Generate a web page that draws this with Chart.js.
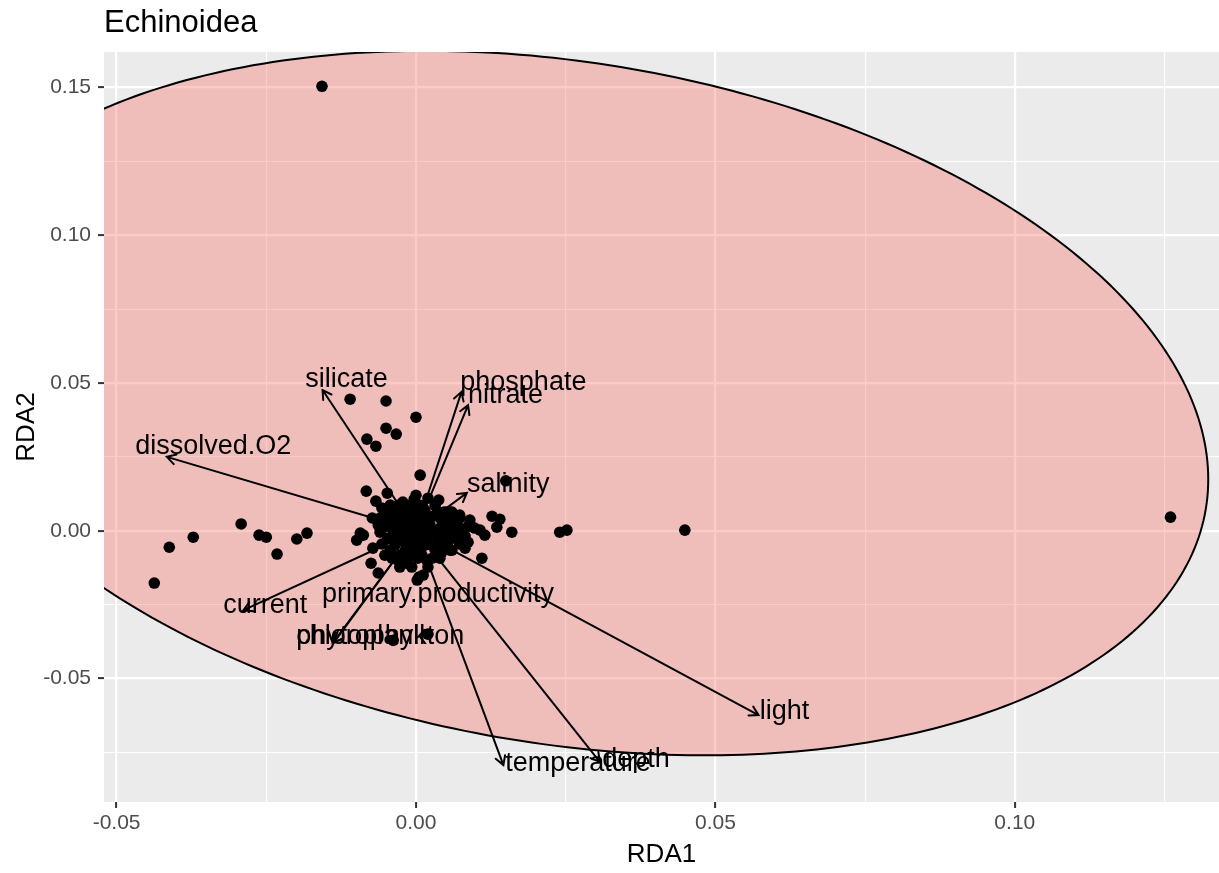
<!DOCTYPE html>
<html>
<head>
<meta charset="utf-8">
<script src="https://cdn.jsdelivr.net/npm/chart.js@4.4.1/dist/chart.umd.min.js"></script>
<style>
html, body { margin: 0; padding: 0; background: #fff; }
#wrap { width: 1219px; height: 873px; }
</style>
</head>
<body>
<div id="wrap"><canvas id="rdaChart" width="1219" height="873"></canvas></div>
<script>
// Site scores (RDA1, RDA2)
const siteX = [
    -0.0157, 0.1260, 0.0449, 0.0240, 0.0252,
    -0.0437, -0.0412, -0.0372, -0.0292, -0.0262, -0.0250, -0.0232, -0.0199, -0.0182,
    -0.0110, -0.0050, 0.0000, -0.0050, -0.0033, -0.0082, -0.0067, 0.0007, -0.0083, -0.0067,
    -0.0048, 0.0000, -0.0003, 0.0038, 0.0052, 0.0150, 0.0127, 0.0140, 0.0135, 0.0160,
    0.0110, 0.0087, 0.0107, 0.0115, 0.0090, 0.0068, 0.0057,
    -0.0093, -0.0099, -0.0088, -0.0072, -0.0075, -0.0063, -0.0073, -0.0043, -0.0015,
    0.0002, 0.0012, 0.0018, 0.0005, -0.0038, 0.0020,
    -0.0035, -0.0018, -0.0002, 0.0015, 0.0032, 0.0048, 0.0065, 0.0077,
    -0.0052, -0.0040, -0.0027, -0.0010, 0.0007, 0.0023, 0.0040, 0.0057,
    -0.0060, -0.0047, -0.0030, -0.0013, 0.0003, 0.0020, 0.0037, 0.0053, 0.0070,
    -0.0035, -0.0018, -0.0002, 0.0015, 0.0032,
    -0.0027, -0.0007, 0.0010, 0.0027, 0.0043,
    -0.0043, -0.0022, 0.0020, -0.0057, 0.0073, 0.0098, -0.0010, 0.0007, -0.0030,
    -0.0052, 0.0060, 0.0082, -0.0063, -0.0005, 0.0028, -0.0023, 0.0047,
    -0.0060, -0.0043, -0.0027, -0.0010, 0.0007, 0.0023, 0.0040, 0.0057, 0.0073,
    -0.0043, -0.0018, 0.0007, 0.0032, 0.0057, -0.0030, -0.0010, 0.0007, 0.0032,
    -0.0052, -0.0030, -0.0007, 0.0015, 0.0037, 0.0060,
    -0.0050, -0.0033, -0.0017, 0.0013, 0.0050, 0.0070, 0.0087,
    -0.0038, -0.0022, 0.0012, 0.0045, 0.0065, 0.0082,
    -0.0057, -0.0010, 0.0023, 0.0048, 0.0073,
    -0.0040, -0.0013, 0.0003, 0.0040,
    -0.0027, -0.0007, 0.0020
];
const siteY = [
    0.1504, 0.0046, 0.0002, -0.0005, 0.0002,
    -0.0177, -0.0056, -0.0022, 0.0023, -0.0015, -0.0022, -0.0079, -0.0028, -0.0008,
    0.0445, 0.0439, 0.0384, 0.0347, 0.0327, 0.0310, 0.0286, 0.0188, 0.0134, 0.0100,
    0.0127, 0.0120, 0.0107, 0.0104, 0.0063, 0.0169, 0.0049, 0.0039, 0.0012, -0.0005,
    -0.0093, -0.0039, 0.0002, -0.0015, 0.0036, 0.0036, 0.0063,
    -0.0008, -0.0032, -0.0015, -0.0059, -0.0110, -0.0143, 0.0043, 0.0087, -0.0110,
    -0.0167, -0.0150, -0.0100, -0.0157, -0.0371, -0.0350,
    0.0053, 0.0063, 0.0070, 0.0070, 0.0053, 0.0036, 0.0019, 0.0002,
    0.0029, 0.0009, 0.0029, 0.0036, 0.0029, 0.0022, 0.0009, -0.0005,
    -0.0005, -0.0025, -0.0005, 0.0002, -0.0005, -0.0015, -0.0025, -0.0039, -0.0032,
    -0.0049, -0.0039, -0.0049, -0.0049, -0.0059,
    -0.0083, -0.0076, -0.0083, -0.0093, -0.0073,
    0.0053, 0.0097, 0.0110, 0.0077, 0.0053, 0.0009, -0.0022, -0.0032, -0.0100,
    -0.0083, -0.0066, -0.0059, 0.0019, 0.0016, 0.0002, -0.0025, 0.0063,
    0.0043, 0.0043, 0.0043, 0.0043, 0.0043, 0.0043, 0.0043, 0.0043, 0.0043,
    -0.0066, -0.0066, -0.0066, -0.0066, -0.0066, 0.0086, 0.0086, 0.0086, 0.0086,
    0.0063, 0.0063, 0.0063, 0.0063, 0.0063, 0.0063,
    0.0015, 0.0015, 0.0015, 0.0015, 0.0015, 0.0015, 0.0015,
    -0.0018, -0.0018, -0.0018, -0.0018, -0.0018, -0.0018,
    -0.0045, -0.0045, -0.0045, -0.0045, -0.0045,
    -0.0093, -0.0093, -0.0093, -0.0093,
    -0.0123, -0.0123, -0.0123
];

// Environmental vectors: arrow tips and where their labels start
const envNames = ['silicate', 'phosphate', 'nitrate', 'salinity', 'dissolved.O2', 'current',
    'primary.productivity', 'chlorophyll', 'phytoplankton', 'temperature', 'depth', 'light'];
const envX = [-0.0156, 0.0076, 0.0087, 0.0085, -0.0416, -0.0288, -0.0030, -0.0139, -0.0137, 0.0146, 0.0307, 0.0572];
const envY = [0.0476, 0.0470, 0.0425, 0.0128, 0.0250, -0.0269, -0.0050, -0.0380, -0.0378, -0.0793, -0.0782, -0.0624];
const labelX = [-0.0185, 0.0074, 0.0087, 0.0085, -0.0469, -0.0322, -0.0157, -0.0200, -0.0200, 0.0149, 0.0311, 0.0574];
const labelY = [0.0510, 0.0503, 0.0457, 0.0156, 0.0284, -0.0254, -0.0215, -0.0357, -0.0357, -0.0788, -0.0773, -0.0611];

// Confidence ellipse: centre and two conjugate half-axes (data units)
const ellipseCenter = [0.0249, 0.0432];
const ellipseAxis1 = [0.1070, -0.0358];
const ellipseAxis2 = [-0.0093, -0.1137];

// Axis ticks
const xTickValues = [-0.05, 0, 0.05, 0.10];
const xTickLabels = ['-0.05', '0.00', '0.05', '0.10'];
const yTickValues = [-0.05, 0, 0.05, 0.10, 0.15];
const yTickLabels = ['-0.05', '0.00', '0.05', '0.10', '0.15'];

const FONT = '"Liberation Sans", Arial, Helvetica, sans-serif';

function isStep(v, step) {
    return Math.abs(v / step - Math.round(v / step)) < 1e-6;
}

function tickLabel(values, labels) {
    return function (value) {
        const i = values.findIndex(t => Math.abs(t - value) < 1e-9);
        return i >= 0 ? labels[i] : '';
    };
}

// keep only the 0.025 grid positions (drop the min/max bound ticks)
function keepGridTicks(scale) {
    scale.ticks = scale.ticks.filter(t => isStep(t.value, 0.025));
}

const gridOptions = {
    color: '#ffffff',
    lineWidth: ctx => (ctx.tick && isStep(ctx.tick.value, 0.05)) ? 2.2 : 1.1,
    drawTicks: true,
    tickLength: 6,
    tickWidth: 2,
    tickColor: ctx => (ctx.tick && isStep(ctx.tick.value, 0.05)) ? '#333333' : 'rgba(0,0,0,0)'
};

const rdaPlugin = {
    id: 'rdaPlot',
    beforeDraw(chart) {
        const { ctx, chartArea: a } = chart;
        ctx.save();
        ctx.fillStyle = '#ffffff';
        ctx.fillRect(0, 0, chart.width, chart.height);
        ctx.fillStyle = '#EBEBEB';
        ctx.fillRect(a.left, a.top, a.right - a.left, a.bottom - a.top);
        ctx.restore();
    },
    beforeDatasetsDraw(chart) {
        const { ctx, chartArea: a, scales: { x, y } } = chart;
        ctx.save();
        ctx.beginPath();
        ctx.rect(a.left, a.top, a.right - a.left, a.bottom - a.top);
        ctx.clip();
        ctx.beginPath();
        for (let i = 0; i <= 360; i++) {
            const t = i * Math.PI / 180;
            const vx = ellipseCenter[0] + ellipseAxis1[0] * Math.cos(t) + ellipseAxis2[0] * Math.sin(t);
            const vy = ellipseCenter[1] + ellipseAxis1[1] * Math.cos(t) + ellipseAxis2[1] * Math.sin(t);
            const px = x.getPixelForValue(vx);
            const py = y.getPixelForValue(vy);
            if (i === 0) ctx.moveTo(px, py); else ctx.lineTo(px, py);
        }
        ctx.closePath();
        ctx.fillStyle = 'rgba(248, 118, 109, 0.38)';
        ctx.fill();
        ctx.lineWidth = 2;
        ctx.strokeStyle = '#000000';
        ctx.stroke();
        ctx.restore();
    },
    afterDatasetsDraw(chart) {
        const { ctx, scales: { x, y } } = chart;
        const ox = x.getPixelForValue(0);
        const oy = y.getPixelForValue(0);
        ctx.save();
        ctx.strokeStyle = '#000000';
        ctx.lineWidth = 2;
        ctx.lineCap = 'round';
        envNames.forEach((name, i) => {
            const tx = x.getPixelForValue(envX[i]);
            const ty = y.getPixelForValue(envY[i]);
            const ang = Math.atan2(ty - oy, tx - ox);
            const len = 10;
            ctx.beginPath();
            ctx.moveTo(ox, oy);
            ctx.lineTo(tx, ty);
            ctx.moveTo(tx - len * Math.cos(ang - Math.PI / 6), ty - len * Math.sin(ang - Math.PI / 6));
            ctx.lineTo(tx, ty);
            ctx.lineTo(tx - len * Math.cos(ang + Math.PI / 6), ty - len * Math.sin(ang + Math.PI / 6));
            ctx.stroke();
        });
        ctx.fillStyle = '#000000';
        ctx.font = '27px ' + FONT;
        ctx.textAlign = 'left';
        ctx.textBaseline = 'middle';
        envNames.forEach((name, i) => {
            ctx.fillText(name, x.getPixelForValue(labelX[i]), y.getPixelForValue(labelY[i]));
        });
        ctx.restore();
    },
    afterDraw(chart) {
        const { ctx, chartArea: a } = chart;
        ctx.save();
        ctx.fillStyle = '#000000';
        ctx.textBaseline = 'alphabetic';
        ctx.font = '31px ' + FONT;
        ctx.textAlign = 'left';
        ctx.fillText('Echinoidea', a.left, 32);
        ctx.font = '26px ' + FONT;
        ctx.textAlign = 'center';
        ctx.fillText('RDA1', (a.left + a.right) / 2, 862);
        ctx.translate(34, (a.top + a.bottom) / 2);
        ctx.rotate(-Math.PI / 2);
        ctx.fillText('RDA2', 0, 0);
        ctx.restore();
    }
};

const sitePoints = siteX.map((v, i) => ({ x: v, y: siteY[i] }));

new Chart(document.getElementById('rdaChart'), {
    type: 'scatter',
    data: {
        datasets: [{
            label: 'sites',
            data: sitePoints,
            backgroundColor: '#000000',
            borderWidth: 0,
            pointRadius: 5.8,
            pointHoverRadius: 5.8
        }]
    },
    options: {
        responsive: false,
        animation: false,
        devicePixelRatio: 1,
        layout: { autoPadding: false, padding: { top: 52, right: 0, bottom: 0, left: 0 } },
        plugins: {
            legend: { display: false },
            title: { display: false },
            tooltip: { enabled: false }
        },
        scales: {
            x: {
                type: 'linear',
                min: -0.0521,
                max: 0.1341,
                border: { display: false },
                grid: gridOptions,
                ticks: {
                    stepSize: 0.025,
                    includeBounds: false,
                    autoSkip: false,
                    maxRotation: 0,
                    maxTicksLimit: 40,
                    padding: 3,
                    color: '#4D4D4D',
                    font: { family: FONT, size: 21 },
                    callback: tickLabel(xTickValues, xTickLabels)
                },
                afterBuildTicks: keepGridTicks,
                afterFit(scale) { scale.height = 71; }
            },
            y: {
                type: 'linear',
                min: -0.0918,
                max: 0.1620,
                border: { display: false },
                grid: gridOptions,
                ticks: {
                    stepSize: 0.025,
                    includeBounds: false,
                    autoSkip: false,
                    maxTicksLimit: 40,
                    padding: 7,
                    color: '#4D4D4D',
                    font: { family: FONT, size: 21 },
                    callback: tickLabel(yTickValues, yTickLabels)
                },
                afterBuildTicks: keepGridTicks,
                afterFit(scale) { scale.width = 104; }
            }
        }
    },
    plugins: [rdaPlugin]
});
</script>
</body>
</html>
